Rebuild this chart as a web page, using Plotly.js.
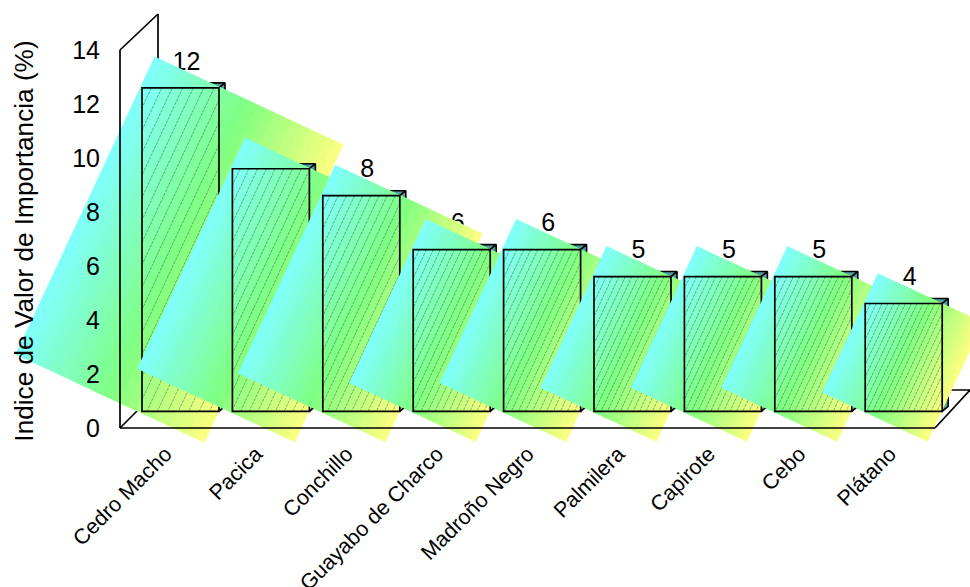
<!DOCTYPE html>
<html>
<head>
<meta charset="utf-8">
<script src="https://cdn.plot.ly/plotly-3.0.1.min.js"></script>
<style>html,body{margin:0;padding:0;background:#fff}</style>
</head>
<body>
<div id="chart" style="width:970px;height:587px"></div>
<script>
// Importance value of tree species
const categories = ["Cedro Macho", "Pacica", "Conchillo", "Guayabo de Charco", "Madroño Negro", "Palmilera", "Capirote", "Cebo", "Plátano"];
const values = [12, 9, 8, 6, 6, 5, 5, 5, 4];
const yTicks = [0, 2, 4, 6, 8, 10, 12, 14];

// Canvas geometry
const W = 970, H = 587, PLOT_BOTTOM = 482;
const UNIT_Y = 26.95;           // pixels per percentage point
const BAR_PITCH = 90.4, BAR_X0 = 180.5, BAR_BASE = 411.3, BAR_PX = 77;
const AXIS_PITCH = 90.55, AXIS_X0 = 165.5, AXIS_BASE = 428, AXIS_LEFT = 120;
const DEPTH_X = 6, DEPTH_Y = 5, LABEL_GAP = 12;
const ANGLE = 25 * Math.PI / 180, COS = Math.cos(ANGLE), SIN = Math.sin(ANGLE);
const BANDS = 22, PANEL_GROW = 1.01, PANEL_SHIFT = -1;

// Convert a pixel offset from a bar's centre into bar-axis data coordinates
const pt = (i, v, dx, dy) => [i + dx / BAR_PITCH, v / 2 - dy / UNIT_Y];
const path = (i, v, pts) => {
  const c = pts.map(p => pt(i, v, p[0], p[1]));
  return { x: c.map(p => p[0]), y: c.map(p => p[1]) };
};

// Cyan to green to yellow
function bandColor(t) {
  const a = [128, 255, 255], b = [128, 255, 128], c = [255, 255, 128];
  const [p, q, f] = t < 0.5 ? [a, b, t * 2] : [b, c, (t - 0.5) * 2];
  return `rgb(${p.map((n, k) => Math.round(n + (q[k] - n) * f)).join(",")})`;
}

const yName = k => (k === 0 ? "y" : "y" + (k + 1));
const traces = [];

// Value labels sit underneath every gradient panel
traces.push({
  type: "scatter", mode: "text", xaxis: "x", yaxis: "y", hoverinfo: "skip", showlegend: false,
  x: values.map((v, i) => i + DEPTH_X / BAR_PITCH),
  y: values.map(v => v + LABEL_GAP / UNIT_Y),
  text: values.map(String), textposition: "top center",
  textfont: { family: "Liberation Sans, Arial, sans-serif", size: 25, color: "#000" }
});

values.forEach((v, i) => {
  const yaxis = yName(i);
  const w = BAR_PX, h = v * UNIT_Y;

  // Outline of the previous bar goes under this bar's panel
  if (i > 0) {
    traces.push(barTrace(i - 1, yaxis));
  }

  // Depth faces of the bar
  const faceStyle = {
    type: "scatter", mode: "lines", fill: "toself", fillcolor: "#4f9fa5",
    line: { color: "#000", width: 1.6 }, hoverinfo: "skip", showlegend: false, xaxis: "x", yaxis
  };
  traces.push({ ...faceStyle, ...path(i, v, [[-w / 2, -h / 2], [-w / 2 + DEPTH_X, -h / 2 - DEPTH_Y], [w / 2 + DEPTH_X, -h / 2 - DEPTH_Y], [w / 2, -h / 2], [-w / 2, -h / 2]]) });
  traces.push({ ...faceStyle, ...path(i, v, [[w / 2, -h / 2], [w / 2 + DEPTH_X, -h / 2 - DEPTH_Y], [w / 2 + DEPTH_X, h / 2 - DEPTH_Y], [w / 2, h / 2], [w / 2, -h / 2]]) });

  // Gradient panel: the bar's box rotated and grown to enclose the bar
  const pw = (w * COS + h * SIN) * PANEL_GROW, ph = (h * COS + w * SIN) * PANEL_GROW;
  for (let b = 0; b < BANDS; b++) {
    const s0 = -pw / 2 + pw * b / BANDS;
    const s1 = -pw / 2 + pw * (b + 1) / BANDS + (b < BANDS - 1 ? 0.6 : 0);
    const corner = (s, u) => [s * COS - u * SIN + PANEL_SHIFT, s * SIN + u * COS];
    const poly = [corner(s0, -ph / 2), corner(s1, -ph / 2), corner(s1, ph / 2), corner(s0, ph / 2), corner(s0, -ph / 2)];
    traces.push({
      type: "scatter", mode: "lines", fill: "toself", fillcolor: bandColor((b + 0.5) / BANDS),
      line: { width: 0, color: "rgba(0,0,0,0)" }, hoverinfo: "skip", showlegend: false, xaxis: "x", yaxis,
      ...path(i, v, poly)
    });
  }

  // Fine seams between gradient bands, visible across the bar
  const hx = [], hy = [];
  for (let b = 1; b < BANDS; b++) {
    const s = -pw / 2 + pw * b / BANDS;
    let lo = -Infinity, hi = Infinity;
    // limits from the bar's vertical sides
    const a1 = (s * COS - w / 2) / SIN, a2 = (s * COS + w / 2) / SIN;
    lo = Math.max(lo, Math.min(a1, a2)); hi = Math.min(hi, Math.max(a1, a2));
    // limits from the bar's top and bottom
    const b1 = (-h / 2 - s * SIN) / COS, b2 = (h / 2 - s * SIN) / COS;
    lo = Math.max(lo, b1); hi = Math.min(hi, b2);
    if (lo < hi) {
      const p = pt(i, v, s * COS - lo * SIN, s * SIN + lo * COS);
      const q = pt(i, v, s * COS - hi * SIN, s * SIN + hi * COS);
      hx.push(p[0], q[0], null); hy.push(p[1], q[1], null);
    }
  }
  traces.push({
    type: "scatter", mode: "lines", x: hx, y: hy, connectgaps: false,
    line: { color: "rgba(30,70,60,0.55)", width: 0.8, dash: "3px,1px" }, hoverinfo: "skip", showlegend: false, xaxis: "x", yaxis
  });
});

function barTrace(i, yaxis) {
  return {
    type: "bar", x: [i], y: [values[i]], width: BAR_PX / BAR_PITCH, xaxis: "x", yaxis,
    marker: { color: "rgba(0,0,0,0)", line: { color: "#000", width: 1.7 } },
    hoverinfo: "x+y", showlegend: false
  };
}
const lastY = yName(values.length);
traces.push(barTrace(values.length - 1, lastY));

// Carrier for the visible tick axes, kept on the top layer
const tickY = "y" + (values.length + 2);
traces.push({
  type: "scatter", mode: "markers", x: categories.map((c, i) => i), y: categories.map(() => 0),
  marker: { opacity: 0, size: 1 }, hoverinfo: "skip", showlegend: false, xaxis: "x2", yaxis: tickY
});

const hiddenY = {
  visible: false, overlaying: "y", fixedrange: true,
  range: [(BAR_BASE - PLOT_BOTTOM) / UNIT_Y, BAR_BASE / UNIT_Y]
};
const font = { family: "Liberation Sans, Arial, sans-serif", color: "#000" };
const layout = {
  width: W, height: H, autosize: false,
  margin: { l: 0, r: 0, t: 0, b: 0, pad: 0 },
  paper_bgcolor: "#fff", plot_bgcolor: "rgba(0,0,0,0)",
  showlegend: false, font,
  xaxis: { visible: false, domain: [0, 1], range: [-BAR_X0 / BAR_PITCH, (W - BAR_X0) / BAR_PITCH], fixedrange: true },
  yaxis: { visible: false, domain: [1 - PLOT_BOTTOM / H, 1], range: hiddenY.range, fixedrange: true },
  xaxis2: {
    overlaying: "x", anchor: "free", position: 1 - AXIS_BASE / H, side: "bottom",
    range: [-AXIS_X0 / AXIS_PITCH, (W - AXIS_X0) / AXIS_PITCH], fixedrange: true,
    tickmode: "array", tickvals: categories.map((c, i) => i), ticktext: categories,
    tickangle: -45, tickfont: { ...font, size: 21.5 },
    ticks: "outside", ticklen: 4, tickcolor: "rgba(0,0,0,0)",
    showgrid: false, zeroline: false, showline: false, automargin: false
  },
  shapes: [
    // Back wall and floor, behind the bars
    ...[[120, 50, 158, 14], [158, 14, 158, 390], [120, 428, 158, 390], [158, 390, 970, 390], [935, 428, 970, 390]]
      .map(s => edge(s, "below")),
    // Front edges, above the panels
    ...[[120, 50, 120, 428], [120, 428, 935, 428]].map(s => edge(s, "above"))
  ]
};
function edge(s, layer) {
  return {
    type: "line", xref: "paper", yref: "paper", layer,
    x0: s[0] / W, y0: 1 - s[1] / H, x1: s[2] / W, y1: 1 - s[3] / H,
    line: { color: "#000", width: 1.7 }
  };
}
for (let k = 1; k <= values.length; k++) {
  layout["yaxis" + (k + 1)] = { ...hiddenY };
}
layout["yaxis" + (values.length + 2)] = {
  overlaying: "y", anchor: "free", position: AXIS_LEFT / W, side: "left",
  range: [(AXIS_BASE - PLOT_BOTTOM) / 27, AXIS_BASE / 27], fixedrange: true,
  tickmode: "array", tickvals: yTicks, tickfont: { ...font, size: 25 },
  ticks: "outside", ticklen: 15, tickcolor: "rgba(0,0,0,0)",
  showgrid: false, zeroline: false, showline: false, automargin: false,
  title: { text: "Indice de Valor de Importancia (%)", font: { ...font, size: 26.2 }, standoff: 30 }
};

Plotly.newPlot("chart", traces, layout, { displayModeBar: false, staticPlot: true });
</script>
</body>
</html>
